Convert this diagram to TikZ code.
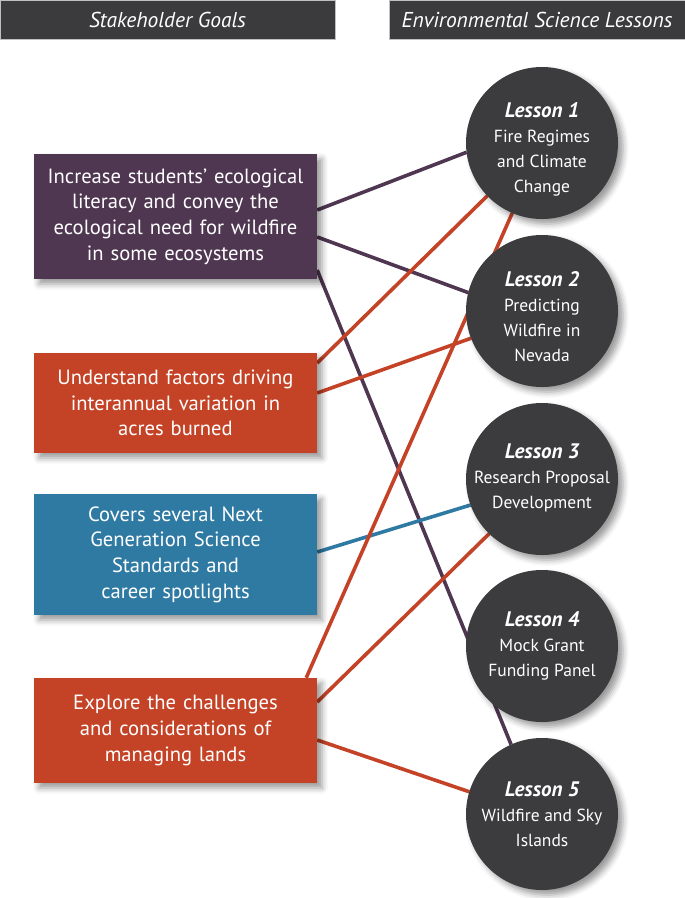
\documentclass[tikz,border=0pt]{standalone}
\usepackage{fontspec}
\setmainfont{PT Sans}
\usetikzlibrary{shadows.blur,calc}
\definecolor{hdr}{HTML}{3B3A3C}
\definecolor{purp}{HTML}{4F3651}
\definecolor{orng}{HTML}{C44327}
\definecolor{blu}{HTML}{2F7AA3}
\definecolor{circ}{HTML}{3C3B3D}
\newcommand{\ltitlefont}{\fontsize{21}{25}\selectfont\bfseries\itshape}
\pgfdeclarelayer{lines}
\pgfsetlayers{lines,main}
\begin{document}
\begin{tikzpicture}[x=1pt,y=-1pt,
  header/.style={fill=hdr, draw=black!25, line width=0.6pt, text=white,
    font=\fontsize{21.5}{24}\selectfont\itshape, inner sep=0pt, minimum height=39pt},
  softshadow/.style={blur shadow={shadow xshift=5pt,shadow yshift=-5pt,
    shadow blur radius=6pt,shadow opacity=40}},
  goal/.style={rectangle, minimum width=283pt, inner sep=0pt, text=white,
    text width=279pt, align=center, font=\fontsize{20.6}{25.7}\selectfont, softshadow},
  lesson/.style={circle, fill=circ, minimum size=152pt, inner sep=0pt, outer sep=0pt, softshadow},
  ltext/.style={text=white, align=center, inner sep=0pt, font=\fontsize{17.5}{25}\selectfont},
  link/.style={line width=3.6pt},
]
\useasboundingbox (0,0) rectangle (685,898);

% headers
\node[header, minimum width=335pt] (h1) at (167.5,19.5) {Stakeholder Goals};
\node[header, minimum width=296pt] (h2) at (537,19.5) {Environmental Science Lessons};

% goals
\node[goal, fill=purp, minimum height=125pt] (b1) at (175.5,216.5)
  {Increase students’ ecological\\literacy and convey the\\ecological need for wildfire\\in some ecosystems};
\node[goal, fill=orng, minimum height=100pt] (b2) at (175.5,403)
  {Understand factors driving\\interannual variation in\\acres burned};
\node[goal, fill=blu, minimum height=121pt] (b3) at (175.5,554.5)
  {Covers several Next\\Generation Science\\Standards and\\career spotlights};
\node[goal, fill=orng, minimum height=105pt] (b4) at (175.5,730.5)
  {Explore the challenges\\and considerations of\\managing lands};

% lessons
\node[lesson] (l1) at (542,143) {};
\node[lesson] (l2) at (542,311) {};
\node[lesson] (l3) at (542,479) {};
\node[lesson] (l4) at (542,646) {};
\node[lesson] (l5) at (542,814) {};

\node[ltext] (t1) at ($(l1.center)+(0,6)$) {{\ltitlefont Lesson 1}\\Fire Regimes\\and Climate\\Change};
\node[ltext] (t2) at ($(l2.center)+(0,6)$) {{\ltitlefont Lesson 2}\\Predicting\\Wildfire in\\Nevada};
\node[ltext] (t3) at ($(l3.center)+(0,-1)$) {{\ltitlefont Lesson 3}\\Research Proposal\\Development};
\node[ltext] (t4) at ($(l4.center)+(0,0)$) {{\ltitlefont Lesson 4}\\Mock Grant\\Funding Panel};
\node[ltext] (t5) at ($(l5.center)+(0,0)$) {{\ltitlefont Lesson 5}\\Wildfire and Sky\\Islands};

% connectors
\begin{pgfonlayer}{lines}
\draw[link, purp] ($(b1.east)+(0,-6.5)$) -- (l1.187.6);
\draw[link, purp] ($(b1.east)+(0,20.5)$) -- (l2.166.3);
\draw[link, purp] ($(b1.east)+(0,53.5)$) -- (l5.114.1);
\draw[link, orng] ($(b2.east)+(0,-40)$) -- (l1.224.5);
\draw[link, orng] ($(b2.east)+(0,-10)$) -- (l2.201.8);
\draw[link, blu]  ($(b3.east)+(0,-2.5)$) -- (l3.200.1);
\draw[link, orng] ($(b4.north east)+(-11,0)$) -- (l1.247.4);
\draw[link, orng] ($(b4.east)+(0,-28.5)$) -- (l3.226.1);
\draw[link, orng] ($(b4.east)+(0,9.5)$) -- (l5.163);
\end{pgfonlayer}
\end{tikzpicture}
\end{document}
